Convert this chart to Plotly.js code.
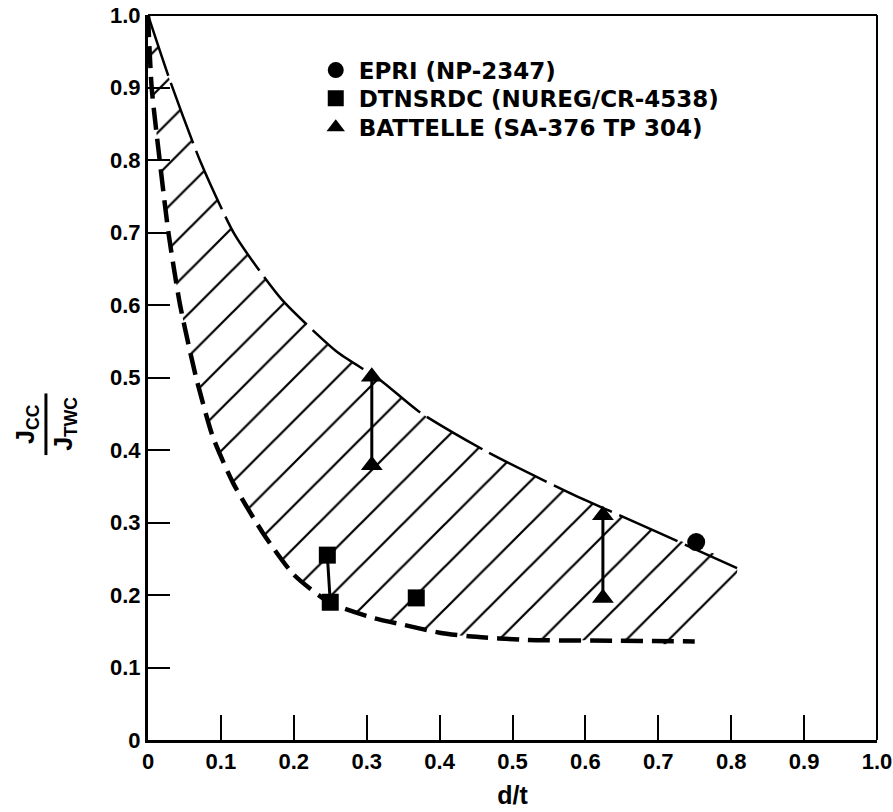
<!DOCTYPE html>
<html>
<head>
<meta charset="utf-8">
<script src="https://cdn.plot.ly/plotly-3.0.1.min.js"></script>
<style>html,body{margin:0;padding:0;background:#fff;}#chart{width:893px;height:812px;}</style>
</head>
<body>
<div id="chart"></div>
<script>
// ---- data ----
const upperX = [0, 0.030, 0.071, 0.119, 0.184, 0.261, 0.318, 0.373, 0.466, 0.576, 0.698, 0.808];
const upperY = [1.0, 0.910, 0.800, 0.697, 0.607, 0.534, 0.497, 0.452, 0.397, 0.342, 0.287, 0.237];
const lowerX = [0, 0.005, 0.016, 0.028, 0.044, 0.066, 0.089, 0.117, 0.158, 0.200, 0.250, 0.310, 0.350, 0.400, 0.440, 0.520, 0.640, 0.750];
const lowerY = [1.0, 0.900, 0.800, 0.700, 0.600, 0.500, 0.418, 0.354, 0.285, 0.228, 0.189, 0.168, 0.159, 0.148, 0.143, 0.138, 0.137, 0.136];

const epriX = [0.752];
const epriY = [0.273];
const dtnsX = [0.246, 0.250, 0.368];
const dtnsY = [0.255, 0.190, 0.196];
const dtnsPair = [0, 0, -1];          // group id for connecting lines (-1 = none)
const batX = [0.307, 0.307, 0.624, 0.624];
const batY = [0.501, 0.379, 0.310, 0.196];
const batPair = [0, 0, 1, 1];

const tickVals = [0, 0.1, 0.2, 0.3, 0.4, 0.5, 0.6, 0.7, 0.8, 0.9, 1.0];
const tickText = ['0', '0.1', '0.2', '0.3', '0.4', '0.5', '0.6', '0.7', '0.8', '0.9', '1.0'];

const names = ['EPRI (NP-2347)', 'DTNSRDC (NUREG/CR-4538)', 'BATTELLE (SA-376 TP 304)'];

// ---- helpers ----
function pairLines(xs, ys, groups) {
  const ox = [], oy = [];
  const ids = [...new Set(groups.filter(g => g >= 0))];
  ids.forEach(id => {
    xs.forEach((x, i) => { if (groups[i] === id) { ox.push(x); oy.push(ys[i]); } });
    ox.push(null); oy.push(null);
  });
  return {x: ox, y: oy};
}

const polyX = upperX.concat(lowerX.slice().reverse());
const polyY = upperY.concat(lowerY.slice().reverse());

const FONT = 'Liberation Sans, Arial, sans-serif';
const LFONT = 'DejaVu Sans, sans-serif';
const dl = pairLines(dtnsX, dtnsY, dtnsPair);
const bl = pairLines(batX, batY, batPair);

const traces = [
  {x: polyX, y: polyY, mode: 'lines', fill: 'toself', line: {width: 0, shape: 'spline', smoothing: 0.6},
   fillcolor: 'rgba(0,0,0,0)',
   fillpattern: {shape: '/', size: 30, solidity: 0.075, fgcolor: '#000', bgcolor: 'rgba(0,0,0,0)'},
   showlegend: false, hoverinfo: 'skip'},
  {x: upperX, y: upperY, mode: 'lines', line: {color: '#000', width: 2.5, dash: '64px,8px', shape: 'spline', smoothing: 0.6},
   showlegend: false, hoverinfo: 'skip'},
  {x: lowerX, y: lowerY, mode: 'lines', line: {color: '#000', width: 4.5, dash: '22px,9px', shape: 'spline', smoothing: 0.6},
   showlegend: false, hoverinfo: 'skip'},
  {x: dl.x, y: dl.y, mode: 'lines', line: {color: '#000', width: 3}, showlegend: false, hoverinfo: 'skip'},
  {x: bl.x, y: bl.y, mode: 'lines', line: {color: '#000', width: 3}, showlegend: false, hoverinfo: 'skip'},
  {x: epriX, y: epriY, name: names[0], legend: 'legend', mode: 'markers', marker: {symbol: 'circle', size: 18, color: '#000'}},
  {x: dtnsX, y: dtnsY, name: names[1], legend: 'legend2', mode: 'markers', marker: {symbol: 'square', size: 17, color: '#000'}},
  {x: batX, y: batY, name: names[2], legend: 'legend3', mode: 'markers', marker: {symbol: 'triangle-up', size: 19, color: '#000'}}
];

const legBase = {xanchor: 'left', yanchor: 'middle', bgcolor: 'rgba(0,0,0,0)', borderwidth: 0,
                 font: {size: 23, family: LFONT, color: '#000', weight: 'bold'}, itemwidth: 36};
const legX = 0.226;

const layout = {
  width: 893, height: 812,
  margin: {l: 148, r: 16, t: 15, b: 72},
  paper_bgcolor: '#fff', plot_bgcolor: '#fff',
  font: {family: FONT, color: '#000', size: 20, weight: 'bold'},
  showlegend: true,
  legend: Object.assign({}, legBase, {x: legX, y: 0.924}),
  legend2: Object.assign({}, legBase, {x: legX, y: 0.885}),
  legend3: Object.assign({}, legBase, {x: legX, y: 0.845}),
  xaxis: {range: [0, 1], tickvals: tickVals, ticktext: tickText, ticks: 'inside', ticklen: 25, tickwidth: 2,
          tickcolor: '#000', showline: true, linewidth: 3, linecolor: '#000', showgrid: false, zeroline: false,
          tickfont: {size: 22, family: FONT, weight: 'bold'}, fixedrange: true,
          title: {text: 'd/t', font: {size: 25, family: FONT, weight: 'bold'}, standoff: 14}},
  yaxis: {range: [0, 1], tickvals: tickVals, ticktext: tickText, ticks: 'inside', ticklen: 22, tickwidth: 2,
          tickcolor: '#000', showline: true, linewidth: 3, linecolor: '#000', showgrid: false, zeroline: false,
          tickfont: {size: 22, family: FONT, weight: 'bold'}, fixedrange: true},
  shapes: [
    {type: 'line', xref: 'paper', yref: 'paper', x0: 0, x1: 1, y0: 1, y1: 1, line: {color: '#000', width: 2}},
    {type: 'line', xref: 'paper', yref: 'paper', x0: 1, x1: 1, y0: 0, y1: 1, line: {color: '#000', width: 2}},
    {type: 'line', xref: 'paper', yref: 'paper', x0: -0.140, x1: -0.140, y0: 0.393, y1: 0.478, line: {color: '#000', width: 3}}
  ],
  annotations: [
    {xref: 'paper', yref: 'paper', x: -0.166, y: 0.436, text: 'J<sub>CC</sub>', showarrow: false, textangle: -90,
     font: {size: 25, family: FONT, weight: 'bold'}, xanchor: 'center', yanchor: 'middle'},
    {xref: 'paper', yref: 'paper', x: -0.114, y: 0.436, text: 'J<sub>TWC</sub>', showarrow: false, textangle: -90,
     font: {size: 25, family: FONT, weight: 'bold'}, xanchor: 'center', yanchor: 'middle'}
  ]
};

Plotly.newPlot('chart', traces, layout, {displayModeBar: false, staticPlot: true});
</script>
</body>
</html>
